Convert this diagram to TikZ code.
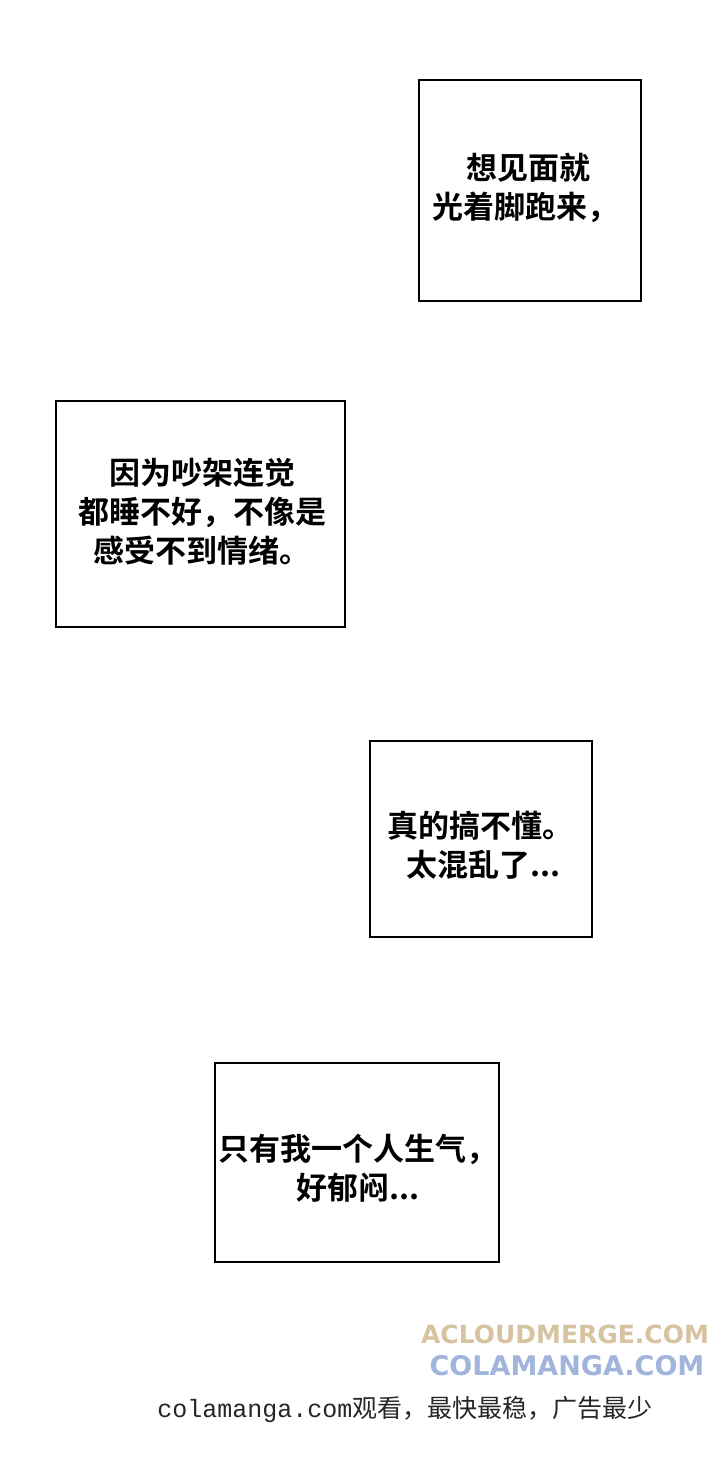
\documentclass[tikz,border=0pt]{standalone}
\usepackage{fontspec}
\newfontfamily\cjk{Noto Sans CJK SC}
\newfontfamily\cjkb{Noto Sans CJK SC Bold}
\newfontfamily\wm{DejaVu Sans}
\newfontfamily\lmono{Liberation Mono}
\definecolor{wmtan}{RGB}{215,195,160}
\definecolor{wmblue}{RGB}{160,180,220}
\begin{document}
\begin{tikzpicture}[x=1pt,y=-1pt,
  panel/.style={draw=black,line width=1.6pt,fill=white},
  say/.style={font=\cjkb\fontsize{31}{39}\selectfont,align=center,inner sep=0pt}]
\useasboundingbox[fill=white] (0,0) rectangle (720,1479);
\draw[panel] (419,80) rectangle (641,301);
\node[say] (t1) at (525,188) {\ 想见面就\\光着脚跑来，};
\draw[panel] (56,401) rectangle (345,627);
\node[say] (t2) at (202,512) {因为吵架连觉\\都睡不好，不像是\\感受不到情绪。};
\draw[panel] (370,741) rectangle (592,937);
\node[say] (t3) at (480,845) {真的搞不懂。\\\ 太混乱了...};
\draw[panel] (215,1063) rectangle (499,1262);
\node[say] (t4) at (358,1168) {只有我一个人生气，\\好郁闷...};
\node[font=\wm\bfseries\fontsize{25}{30}\selectfont,text=wmtan] (w1) at (565,1334) {ACLOUDMERGE.COM};
\node[font=\wm\bfseries\fontsize{27}{30}\selectfont,text=wmblue] (w2) at (567,1366) {COLAMANGA.COM};
\node[font=\cjk\fontsize{25}{28}\selectfont,text=black!85] (w3) at (405,1410) {{\lmono colamanga.com}观看，最快最稳，广告最少};
\end{tikzpicture}
\end{document}
